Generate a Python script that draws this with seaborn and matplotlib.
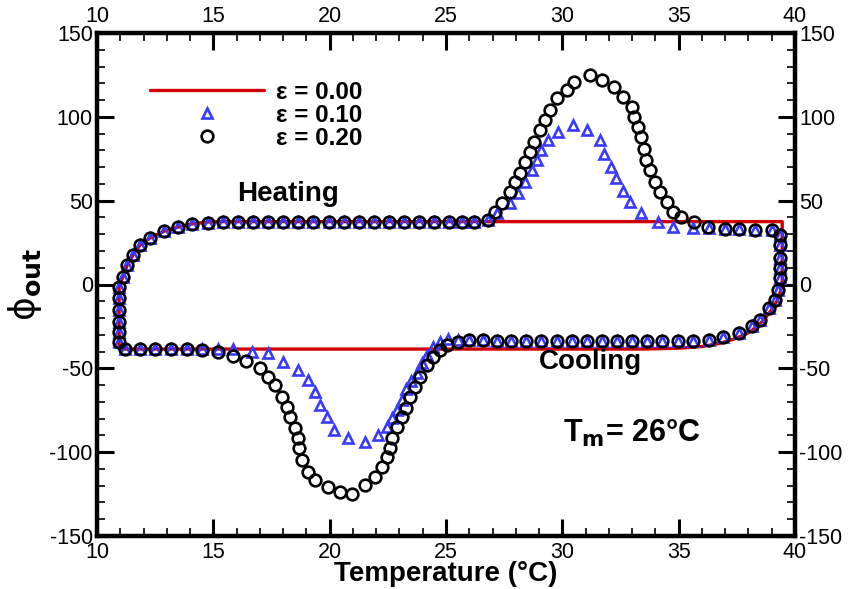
import matplotlib
matplotlib.use("Agg")
import matplotlib.pyplot as plt
from matplotlib import font_manager
from matplotlib.ticker import MultipleLocator
import seaborn as sns
import numpy as np

# ---------------- data ----------------
# shared: left corner of the loop + heating plateau
left_T   = [10.95, 10.95, 10.95, 10.95, 10.95, 10.95, 11.12, 11.3, 11.55, 11.85, 12.28, 12.9, 13.5, 14.1,
            14.77, 15.4, 16.05, 16.7, 17.35, 18.0, 18.65, 19.3, 19.95, 20.6, 21.25, 21.9, 22.55, 23.2,
            23.85, 24.5, 25.15, 25.7, 26.2, 26.8]
left_phi = [-34.3, -28.3, -22.4, -15.2, -8.0, -1.5, 4.5, 11.6, 17.6, 23.6, 27.7, 31.9, 34.3, 36.0,
            36.7, 37.0, 37.0, 37.0, 37.0, 37.0, 37.0, 37.0, 37.0, 37.0, 37.0, 37.0, 37.0, 37.0,
            37.0, 37.0, 37.0, 37.0, 37.3, 38.5]
# shared: right corner of the loop
right_T   = [37.0, 37.6, 38.3, 39.0, 39.35, 39.35, 39.35, 39.35, 39.35, 39.27, 39.15, 38.9, 38.5, 38.15,
             37.6, 36.9, 36.3]
right_phi = [33.2, 33.0, 32.5, 32.5, 29.5, 23.6, 15.8, 9.8, 3.9, -3.0, -9.0, -14.0, -21.0, -25.0,
             -29.0, -31.3, -33.0]
# shared: cooling plateau after the dip
coolflat_T   = [35.6, 34.95, 34.3, 33.65, 33.0, 32.35, 31.7, 31.05, 30.4, 29.75, 29.1, 28.45, 27.8,
                27.2, 26.6, 26.0]
coolflat_phi = [-33.5, -33.5, -33.5, -33.5, -33.5, -33.5, -33.5, -33.5, -33.5, -33.5, -33.5, -33.5,
                -33.5, -33.5, -33.3, -33.3]
# shared: cooling plateau at low temperature
lowflat_T   = [13.85, 13.2, 12.5, 11.85, 11.2]
lowflat_phi = [-38.5, -38.5, -38.5, -38.5, -38.2]

# eps = 0.20 (circles): heating peak and cooling dip
e20_up_T   = [27.1, 27.4, 27.75, 27.96, 28.2, 28.4, 28.6, 28.8, 29.04, 29.25, 29.47, 29.77, 30.2, 30.5,
              31.2, 31.7, 32.2, 32.6, 33.0, 33.1, 33.25, 33.4, 33.5, 33.6, 33.75, 34.0, 34.2, 34.5,
              34.75, 35.1, 35.65, 36.25]
e20_up_phi = [43.0, 48.6, 55.0, 61.0, 66.5, 73.0, 79.0, 85.0, 92.0, 98.0, 104.0, 111.0, 116.0, 121.0,
              125.0, 122.0, 118.0, 112.0, 106.0, 100.0, 94.0, 88.0, 81.0, 74.0, 68.0, 61.0, 55.0, 49.0,
              43.0, 40.0, 37.0, 34.5]
e20_dn_T   = [25.5, 25.04, 24.74, 24.44, 24.2, 23.88, 23.66, 23.45, 23.3, 23.1, 22.9, 22.7, 22.6, 22.46,
              22.25, 21.95, 21.5, 20.96, 20.44, 19.93, 19.37, 19.07, 18.8, 18.7, 18.64, 18.5, 18.3,
              18.17, 17.95, 17.65, 17.35, 17.0, 16.4, 15.85, 15.2, 14.5]
e20_dn_phi = [-34.5, -36.0, -39.0, -43.0, -48.0, -55.0, -61.0, -67.0, -73.6, -79.0, -85.0, -91.5, -97.5,
              -102.9, -108.8, -114.8, -119.6, -125.0, -124.0, -121.0, -116.6, -111.8, -104.6, -97.5,
              -91.5, -85.5, -79.0, -73.0, -67.0, -60.0, -55.0, -50.0, -45.5, -42.5, -40.5, -39.0]

# eps = 0.10 (triangles): heating peak and cooling dip
e10_up_T   = [27.2, 27.75, 28.1, 28.4, 28.7, 28.9, 29.1, 29.4, 29.8, 30.45, 31.05, 31.6, 31.8, 32.1,
              32.3, 32.6, 32.9, 33.4, 34.1, 34.75, 35.6, 36.3]
e10_up_phi = [42.6, 48.6, 54.5, 61.0, 68.0, 74.0, 80.0, 86.0, 91.0, 95.0, 92.0, 86.0, 78.0, 70.0,
              63.5, 56.0, 49.0, 42.6, 37.3, 34.3, 33.7, 33.5]
e10_dn_T   = [25.5, 25.1, 24.75, 24.45, 24.2, 23.97, 23.75, 23.5, 23.3, 23.1, 22.9, 22.7, 22.46, 22.08,
              21.5, 20.8, 20.2, 19.9, 19.6, 19.37, 19.07, 18.64, 18.0, 17.35, 16.66, 15.85, 15.2, 14.5]
e10_dn_phi = [-33.0, -32.5, -34.0, -37.0, -42.0, -46.8, -52.8, -57.8, -62.6, -68.6, -74.8, -79.6,
              -85.0, -89.7, -94.0, -91.5, -86.6, -79.0, -72.0, -64.0, -57.0, -51.0, -46.0, -41.0,
              -40.0, -38.5, -38.5, -38.5]

# eps = 0.00 (red line), loop path
e00_T   = [10.95, 10.95, 11.12, 11.3, 11.55, 11.85, 12.28, 12.9, 13.5, 14.1, 14.8, 15.5, 39.45,
           39.45, 39.3, 39.0, 38.6, 38.1, 37.5, 36.8, 36.0, 35.0, 33.5, 11.2, 10.95]
e00_phi = [-38.0, 0.0, 4.5, 11.6, 17.6, 23.6, 27.7, 31.9, 34.3, 36.2, 37.3, 37.5, 37.5,
           0.0, -8.0, -15.0, -22.0, -28.0, -32.0, -35.0, -37.0, -38.0, -38.5, -38.5, -38.0]

x_ticks = [10, 15, 20, 25, 30, 35, 40]
y_ticks = [-150, -100, -50, 0, 50, 100, 150]
legend_labels = ["\u03b5 = 0.00", "\u03b5 = 0.10", "\u03b5 = 0.20"]

# ---------------- assemble ----------------
e20_T = left_T + e20_up_T + right_T + coolflat_T + e20_dn_T + lowflat_T
e20_phi = left_phi + e20_up_phi + right_phi + coolflat_phi + e20_dn_phi + lowflat_phi
e10_T = left_T + e10_up_T + right_T + coolflat_T + e10_dn_T + lowflat_T
e10_phi = left_phi + e10_up_phi + right_phi + coolflat_phi + e10_dn_phi + lowflat_phi

# ---------------- style ----------------
sns.set_style("ticks", rc={"axes.edgecolor": "black", "xtick.color": "black", "ytick.color": "black",
                           "text.color": "black", "axes.labelcolor": "black"})
names = {f.name for f in font_manager.fontManager.ttflist}
tick_font = "Liberation Sans Narrow" if "Liberation Sans Narrow" in names else "Liberation Sans"
plt.rcParams["font.family"] = ["Liberation Sans", "DejaVu Sans"]
plt.rcParams["mathtext.fontset"] = "dejavusans"
plt.rcParams["axes.unicode_minus"] = False

fig = plt.figure(figsize=(8.55, 5.89), dpi=100)
ax = fig.add_axes([97 / 855, 1 - 536 / 589, 698 / 855, 503 / 589])

sns.lineplot(x=e00_T, y=e00_phi, sort=False, estimator=None, ax=ax, color="#d00000",
             lw=2.4, label=legend_labels[0], zorder=2)
sns.lineplot(x=e10_T, y=e10_phi, sort=False, estimator=None, ax=ax, linestyle="", marker="^",
             markersize=7.5, mfc="none", mec="#3a3aff", mew=1.9, label=legend_labels[1], zorder=3)
sns.lineplot(x=e20_T, y=e20_phi, sort=False, estimator=None, ax=ax, linestyle="", marker="o",
             markersize=8.4, mfc="none", mec="black", mew=1.9, label=legend_labels[2], zorder=4)

ax.set_xlim(10, 40)
ax.set_ylim(-150, 150)
ax.set_xticks(x_ticks)
ax.set_yticks(y_ticks)
ax.xaxis.set_minor_locator(MultipleLocator(1))
ax.yaxis.set_minor_locator(MultipleLocator(10))
ax.tick_params(which="both", direction="in", top=True, right=True, labeltop=True, labelright=True,
               colors="black")
ax.tick_params(which="major", length=12, width=2.2, labelsize=15.5)
ax.tick_params(axis="x", which="major", pad=4)
ax.tick_params(axis="y", which="major", pad=3)
ax.tick_params(which="minor", length=6, width=1.2)
for lab in ax.get_xticklabels() + ax.get_yticklabels():
    lab.set_fontfamily(tick_font)
for s in ax.spines.values():
    s.set_linewidth(3.2)
    s.set_color("black")
    s.set_visible(True)
ax.grid(False)

ax.set_xlabel("Temperature (\u00b0C)", fontsize=20, fontweight="bold", labelpad=-1)
ax.set_ylabel(r"$\mathrm{\phi}_{\mathbf{out}}$", fontsize=26, labelpad=4)

ax.text(18.2, 54, "Heating", fontsize=20, fontweight="bold", ha="center", va="center")
ax.text(31.2, -46, "Cooling", fontsize=20, fontweight="bold", ha="center", va="center")
ax.text(30.05, -89, r"T$_{\mathbf{m}}$= 26°C", fontsize=22, fontweight="bold", ha="left", va="center")

leg = ax.legend(loc="upper left", bbox_to_anchor=(0.076, 0.905), frameon=False, fontsize=17.5,
                handlelength=4.7, handletextpad=0.5, labelspacing=0.0, borderpad=0,
                borderaxespad=0, numpoints=1)
for t in leg.get_texts():
    t.set_fontweight("bold")

fig.savefig("out.png", dpi=100)
